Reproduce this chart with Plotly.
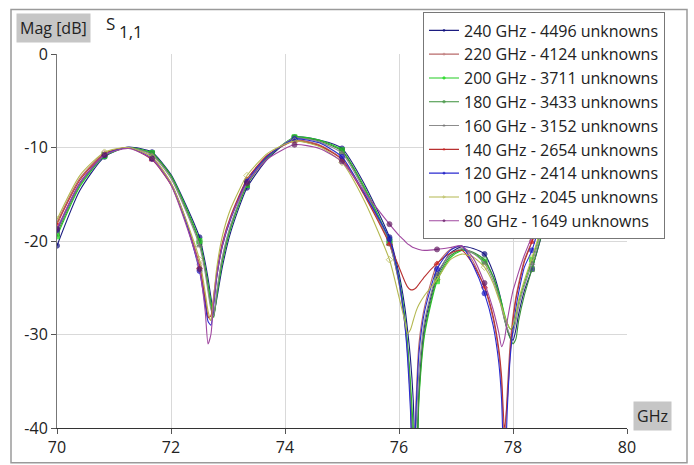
import plotly.graph_objects as go

freq_ghz = [70.0, 70.4, 70.833, 71.25, 71.667, 72.0, 72.25, 72.5, 72.6, 72.65,
            72.7, 72.75, 72.8, 72.9, 73.05, 73.333, 73.7, 74.167, 74.6, 75.0,
            75.4, 75.833, 76.0, 76.1, 76.15, 76.2, 76.25, 76.3, 76.35, 76.45,
            76.667, 76.9, 77.1, 77.3, 77.5, 77.65, 77.75, 77.8, 77.85, 77.9,
            77.95, 78.0, 78.05, 78.1, 78.2, 78.333, 78.6, 79.0, 79.167, 79.6, 80.0]

s_240 = [-20.5, -14.6, -11.0, -9.95, -10.5, -12.9, -16.0, -19.6, -22.3, -24.0,
         -26.0, -27.8, -26.3, -22.8, -19.0, -14.3, -11.2, -8.9, -9.2, -10.1,
         -14.0, -19.6, -23.5, -27.0, -29.5, -32.5, -37.0, -46.0, -36.0, -29.0,
         -23.7, -21.3, -20.6, -20.8, -21.4, -23.3, -25.3, -26.6, -28.2, -29.5,
         -30.3, -30.6, -29.5, -27.8, -25.3, -23.0, -17.5, -12.0, -10.5, -9.5, -10.0]
s_220 = [-18.0, -13.3, -10.6, -10.0, -11.0, -13.8, -17.5, -22.5, -26.0, -28.0,
         -28.5, -26.5, -24.0, -20.5, -17.5, -13.5, -10.8, -9.2, -9.7, -11.2,
         -15.0, -20.3, -24.5, -28.5, -31.5, -36.0, -46.0, -37.0, -31.0, -27.0,
         -22.5, -20.9, -20.6, -22.2, -25.0, -28.3, -32.0, -35.5, -42.0, -36.0,
         -31.0, -28.0, -26.0, -24.5, -22.0, -20.0, -15.0, -10.5, -9.8, -9.0, -9.5]
s_200 = [-19.5, -14.2, -10.9, -10.0, -10.6, -13.0, -16.2, -20.0, -22.8, -24.6,
         -26.5, -28.0, -26.0, -22.3, -18.6, -14.0, -11.0, -8.9, -9.2, -10.3,
         -14.3, -20.0, -24.0, -28.0, -31.0, -35.0, -40.0, -46.0, -37.0, -30.0,
         -24.3, -21.8, -21.0, -21.3, -22.2, -23.8, -25.5, -26.6, -27.8, -28.8,
         -29.4, -29.3, -28.0, -26.5, -24.5, -22.0, -17.0, -12.0, -10.6, -9.6, -10.0]
s_180 = [-19.2, -14.0, -10.8, -10.0, -10.7, -13.1, -16.4, -20.2, -23.0, -25.0,
         -27.0, -28.2, -25.8, -22.0, -18.4, -13.9, -11.0, -9.0, -9.3, -10.4,
         -14.5, -20.2, -24.3, -28.4, -31.5, -36.0, -42.0, -46.0, -36.5, -29.6,
         -24.0, -21.6, -20.9, -21.2, -22.0, -23.8, -25.8, -27.0, -28.4, -29.5,
         -30.4, -31.0, -30.5, -28.5, -25.8, -23.0, -17.5, -12.2, -10.7, -9.6, -10.0]
s_160 = [-19.0, -13.9, -10.8, -10.0, -10.8, -13.3, -16.6, -20.5, -23.4, -25.4,
         -27.3, -28.0, -25.5, -21.7, -18.2, -13.8, -10.9, -9.0, -9.4, -10.6,
         -14.7, -20.3, -24.5, -28.8, -32.0, -37.0, -46.0, -40.0, -34.0, -28.5,
         -23.5, -21.4, -20.8, -21.3, -22.4, -24.2, -26.0, -27.2, -28.4, -29.3,
         -30.0, -29.8, -28.6, -27.0, -24.8, -22.4, -17.2, -12.0, -10.6, -9.6, -10.0]
s_140 = [-18.2, -13.5, -10.7, -10.0, -11.3, -14.0, -17.8, -22.8, -26.3, -28.2,
         -28.0, -25.8, -23.5, -20.2, -17.3, -13.4, -10.8, -9.3, -9.8, -11.3,
         -15.2, -20.3, -22.8, -24.3, -24.9, -25.2, -25.2, -25.0, -24.6, -23.8,
         -22.4, -21.3, -21.0, -22.5, -24.9, -28.0, -31.5, -34.5, -40.0, -37.0,
         -32.0, -28.5, -26.3, -24.8, -22.2, -20.1, -15.0, -10.6, -9.8, -9.0, -9.5]
s_120 = [-18.8, -13.8, -10.8, -10.0, -11.2, -13.9, -17.7, -23.2, -26.8, -28.6,
         -29.0, -26.8, -24.0, -20.6, -17.6, -13.6, -10.9, -9.1, -9.5, -11.0,
         -15.0, -19.8, -24.2, -28.8, -32.5, -38.0, -46.0, -38.0, -32.0, -27.5,
         -23.0, -21.0, -20.5, -22.6, -25.6, -29.0, -33.0, -37.0, -46.0, -38.0,
         -32.5, -29.5, -27.2, -25.5, -22.8, -21.0, -15.8, -11.0, -10.0, -9.2, -9.6]
s_100 = [-17.7, -13.0, -10.5, -10.0, -11.0, -13.8, -17.5, -22.0, -25.5, -27.5,
         -28.5, -26.0, -23.0, -19.5, -16.5, -13.0, -10.6, -9.3, -9.9, -11.6,
         -15.8, -22.0, -26.0, -28.5, -29.9, -29.5, -28.5, -27.5, -26.8, -25.8,
         -24.1, -22.0, -21.4, -21.7, -22.8, -24.5, -26.2, -27.0, -28.0, -28.8,
         -29.4, -29.0, -27.8, -26.3, -24.2, -21.8, -16.8, -11.8, -10.5, -9.5, -9.9]
s_80 = [-18.7, -13.8, -10.8, -10.1, -11.2, -14.0, -18.0, -23.0, -27.5, -31.0,
        -30.0, -26.5, -23.8, -20.5, -17.5, -13.8, -11.2, -9.7, -10.1, -11.5,
        -14.8, -18.2, -19.4, -20.0, -20.3, -20.5, -20.7, -20.8, -20.9, -21.0,
        -20.9, -20.7, -20.5, -21.8, -24.5, -27.3, -29.8, -31.3, -30.5, -28.5,
        -26.8, -25.3, -24.3, -23.3, -21.5, -19.5, -15.5, -11.0, -10.2, -9.4, -9.8]

series_names = ["240 GHz - 4496 unknowns", "220 GHz - 4124 unknowns",
                "200 GHz - 3711 unknowns", "180 GHz - 3433 unknowns",
                "160 GHz - 3152 unknowns", "140 GHz - 2654 unknowns",
                "120 GHz - 2414 unknowns", "100 GHz - 2045 unknowns",
                "80 GHz - 1649 unknowns"]
series_values = [s_240, s_220, s_200, s_180, s_160, s_140, s_120, s_100, s_80]

x_ticks = [70, 72, 74, 76, 78, 80]
y_ticks = [0, -10, -20, -30, -40]

line_colors = ["#1c1c80", "#b86a6a", "#22cc22", "#3a8f3a", "#8c8c8c",
               "#b83030", "#2a2ad0", "#b4b850", "#a048a0"]
marker_colors = ["#101080", "#c08080", "#11dd11", "#3a8f3a", "#707070",
                 "#d02020", "#1515c0", "#b4b850", "#601860"]
marker_symbols = ["circle", "circle-open", "square", "square-open", "triangle-up",
                  "triangle-up", "circle", "diamond-open", "circle"]

# markers every 10/12 GHz starting at 70
def msize(x):
    k = (x - 70) * 1.2
    return 5 if abs(k - round(k)) < 0.01 else 0

sizes = [msize(x) for x in freq_ghz]

fig = go.Figure()
for name, vals, lc, mc, sym in zip(series_names, series_values, line_colors,
                                   marker_colors, marker_symbols):
    fig.add_trace(go.Scatter(
        x=freq_ghz, y=vals, name=name, mode="lines+markers",
        line=dict(color=lc, width=1.1, shape="spline", smoothing=0.6),
        marker=dict(size=sizes, color=mc, symbol=sym, line=dict(color=mc, width=1)),
        cliponaxis=True,
    ))

font_family = "Open Sans, Noto Sans, sans-serif"

fig.update_layout(
    width=694, height=465,
    margin=dict(l=57, r=67, t=50, b=37),
    paper_bgcolor="white", plot_bgcolor="white",
    font=dict(family=font_family, size=16, color="#222222"),
    showlegend=True,
    legend=dict(
        x=(423 - 57) / 570, y=(428 - 8) / 378, xanchor="left", yanchor="top",
        bgcolor="white", bordercolor="#777777", borderwidth=1,
        font=dict(size=16, family=font_family, color="#222222"),
        itemwidth=30, tracegroupgap=0,
    ),
    xaxis=dict(
        range=[70, 80], tickvals=x_ticks, ticktext=[str(v) for v in x_ticks],
        showgrid=True, gridcolor="#d9d9d9", gridwidth=1,
        showline=True, linecolor="#333333", linewidth=1,
        ticks="outside", ticklen=5, tickcolor="#555555",
        zeroline=False, tickfont=dict(size=16), automargin=False,
    ),
    yaxis=dict(
        range=[-40, 0], tickvals=y_ticks, ticktext=[str(v) for v in y_ticks],
        showgrid=True, gridcolor="#d9d9d9", gridwidth=1,
        showline=True, linecolor="#777777", linewidth=1,
        ticks="outside", ticklen=5, tickcolor="#555555",
        zeroline=False, tickfont=dict(size=16), automargin=False,
    ),
)

# outer frame
fig.add_shape(type="rect", xref="paper", yref="paper",
              x0=(11 - 57) / 570, x1=(687 - 57) / 570,
              y0=(428 - 463) / 378, y1=(428 - 5) / 378,
              line=dict(color="#9a9a9a", width=1.5), fillcolor="rgba(0,0,0,0)",
              layer="below")

fig.add_annotation(text="Mag [dB]", xref="paper", yref="paper",
                   x=(16 - 57) / 570, y=(428 - 24) / 378, xanchor="left", yanchor="middle",
                   showarrow=False, bgcolor="#c6c6c6", borderpad=3,
                   font=dict(size=16, family=font_family, color="#222222"))
fig.add_annotation(text="S", xref="paper", yref="paper",
                   x=(104 - 57) / 570, y=(428 - 19) / 378, xanchor="left", yanchor="middle",
                   showarrow=False, font=dict(size=17, family=font_family, color="#222222"))
fig.add_annotation(text="1,1", xref="paper", yref="paper",
                   x=(117 - 57) / 570, y=(428 - 27) / 378, xanchor="left", yanchor="middle",
                   showarrow=False, font=dict(size=17, family=font_family, color="#222222"))
fig.add_annotation(text="GHz", xref="paper", yref="paper",
                   x=(652 - 57) / 570, y=(428 - 416) / 378, xanchor="center", yanchor="middle",
                   showarrow=False, bgcolor="#c6c6c6", borderpad=3,
                   font=dict(size=16, family=font_family, color="#222222"))

fig.write_html("out.html")
